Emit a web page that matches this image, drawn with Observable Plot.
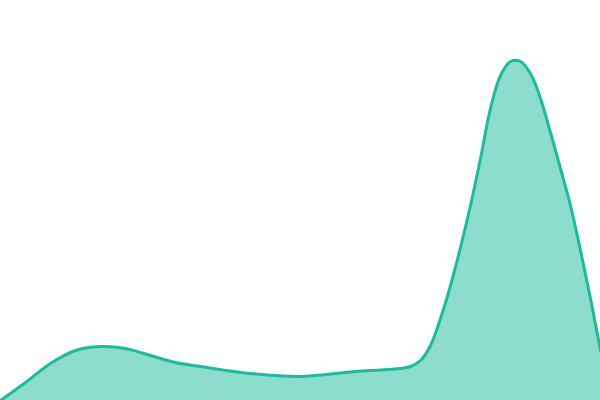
<!DOCTYPE html>
<html>
<head>
<meta charset="utf-8">
<script src="https://cdn.jsdelivr.net/npm/d3@7"></script>
<script src="https://cdn.jsdelivr.net/npm/@observablehq/plot@0.6"></script>
<style>
  html, body { margin: 0; padding: 0; background: #fff; }
</style>
</head>
<body>
<div id="chart"></div>
<script>
const xs = [0, 25, 50, 75, 100, 125, 150, 175, 200, 250, 300, 350, 370, 400, 410, 420, 430, 440, 450, 460, 470, 480, 490, 500, 510, 520, 530, 540, 550, 560, 570, 580, 590, 600];
const values = [0, 18, 37, 50, 54, 52, 45, 38, 34, 27, 24, 28.5, 30, 32, 34, 40, 55, 82, 115, 153, 195, 242, 292, 325, 339, 339, 327, 302, 268, 232, 195, 150, 102, 50];

const data = xs.map((x, i) => ({x, v: values[i]}));

const chart = Plot.plot({
  width: 600,
  height: 400,
  margin: 0,
  x: {domain: [0, 600], axis: null},
  y: {domain: [0, 400], axis: null},
  marks: [
    Plot.areaY(data, {x: "x", y: "v", fill: "#1abc9c", fillOpacity: 0.5, curve: "catmull-rom"}),
    Plot.lineY(data, {x: "x", y: "v", stroke: "#1abc9c", strokeWidth: 3, curve: "catmull-rom"})
  ]
});
document.getElementById("chart").appendChild(chart);
</script>
</body>
</html>
